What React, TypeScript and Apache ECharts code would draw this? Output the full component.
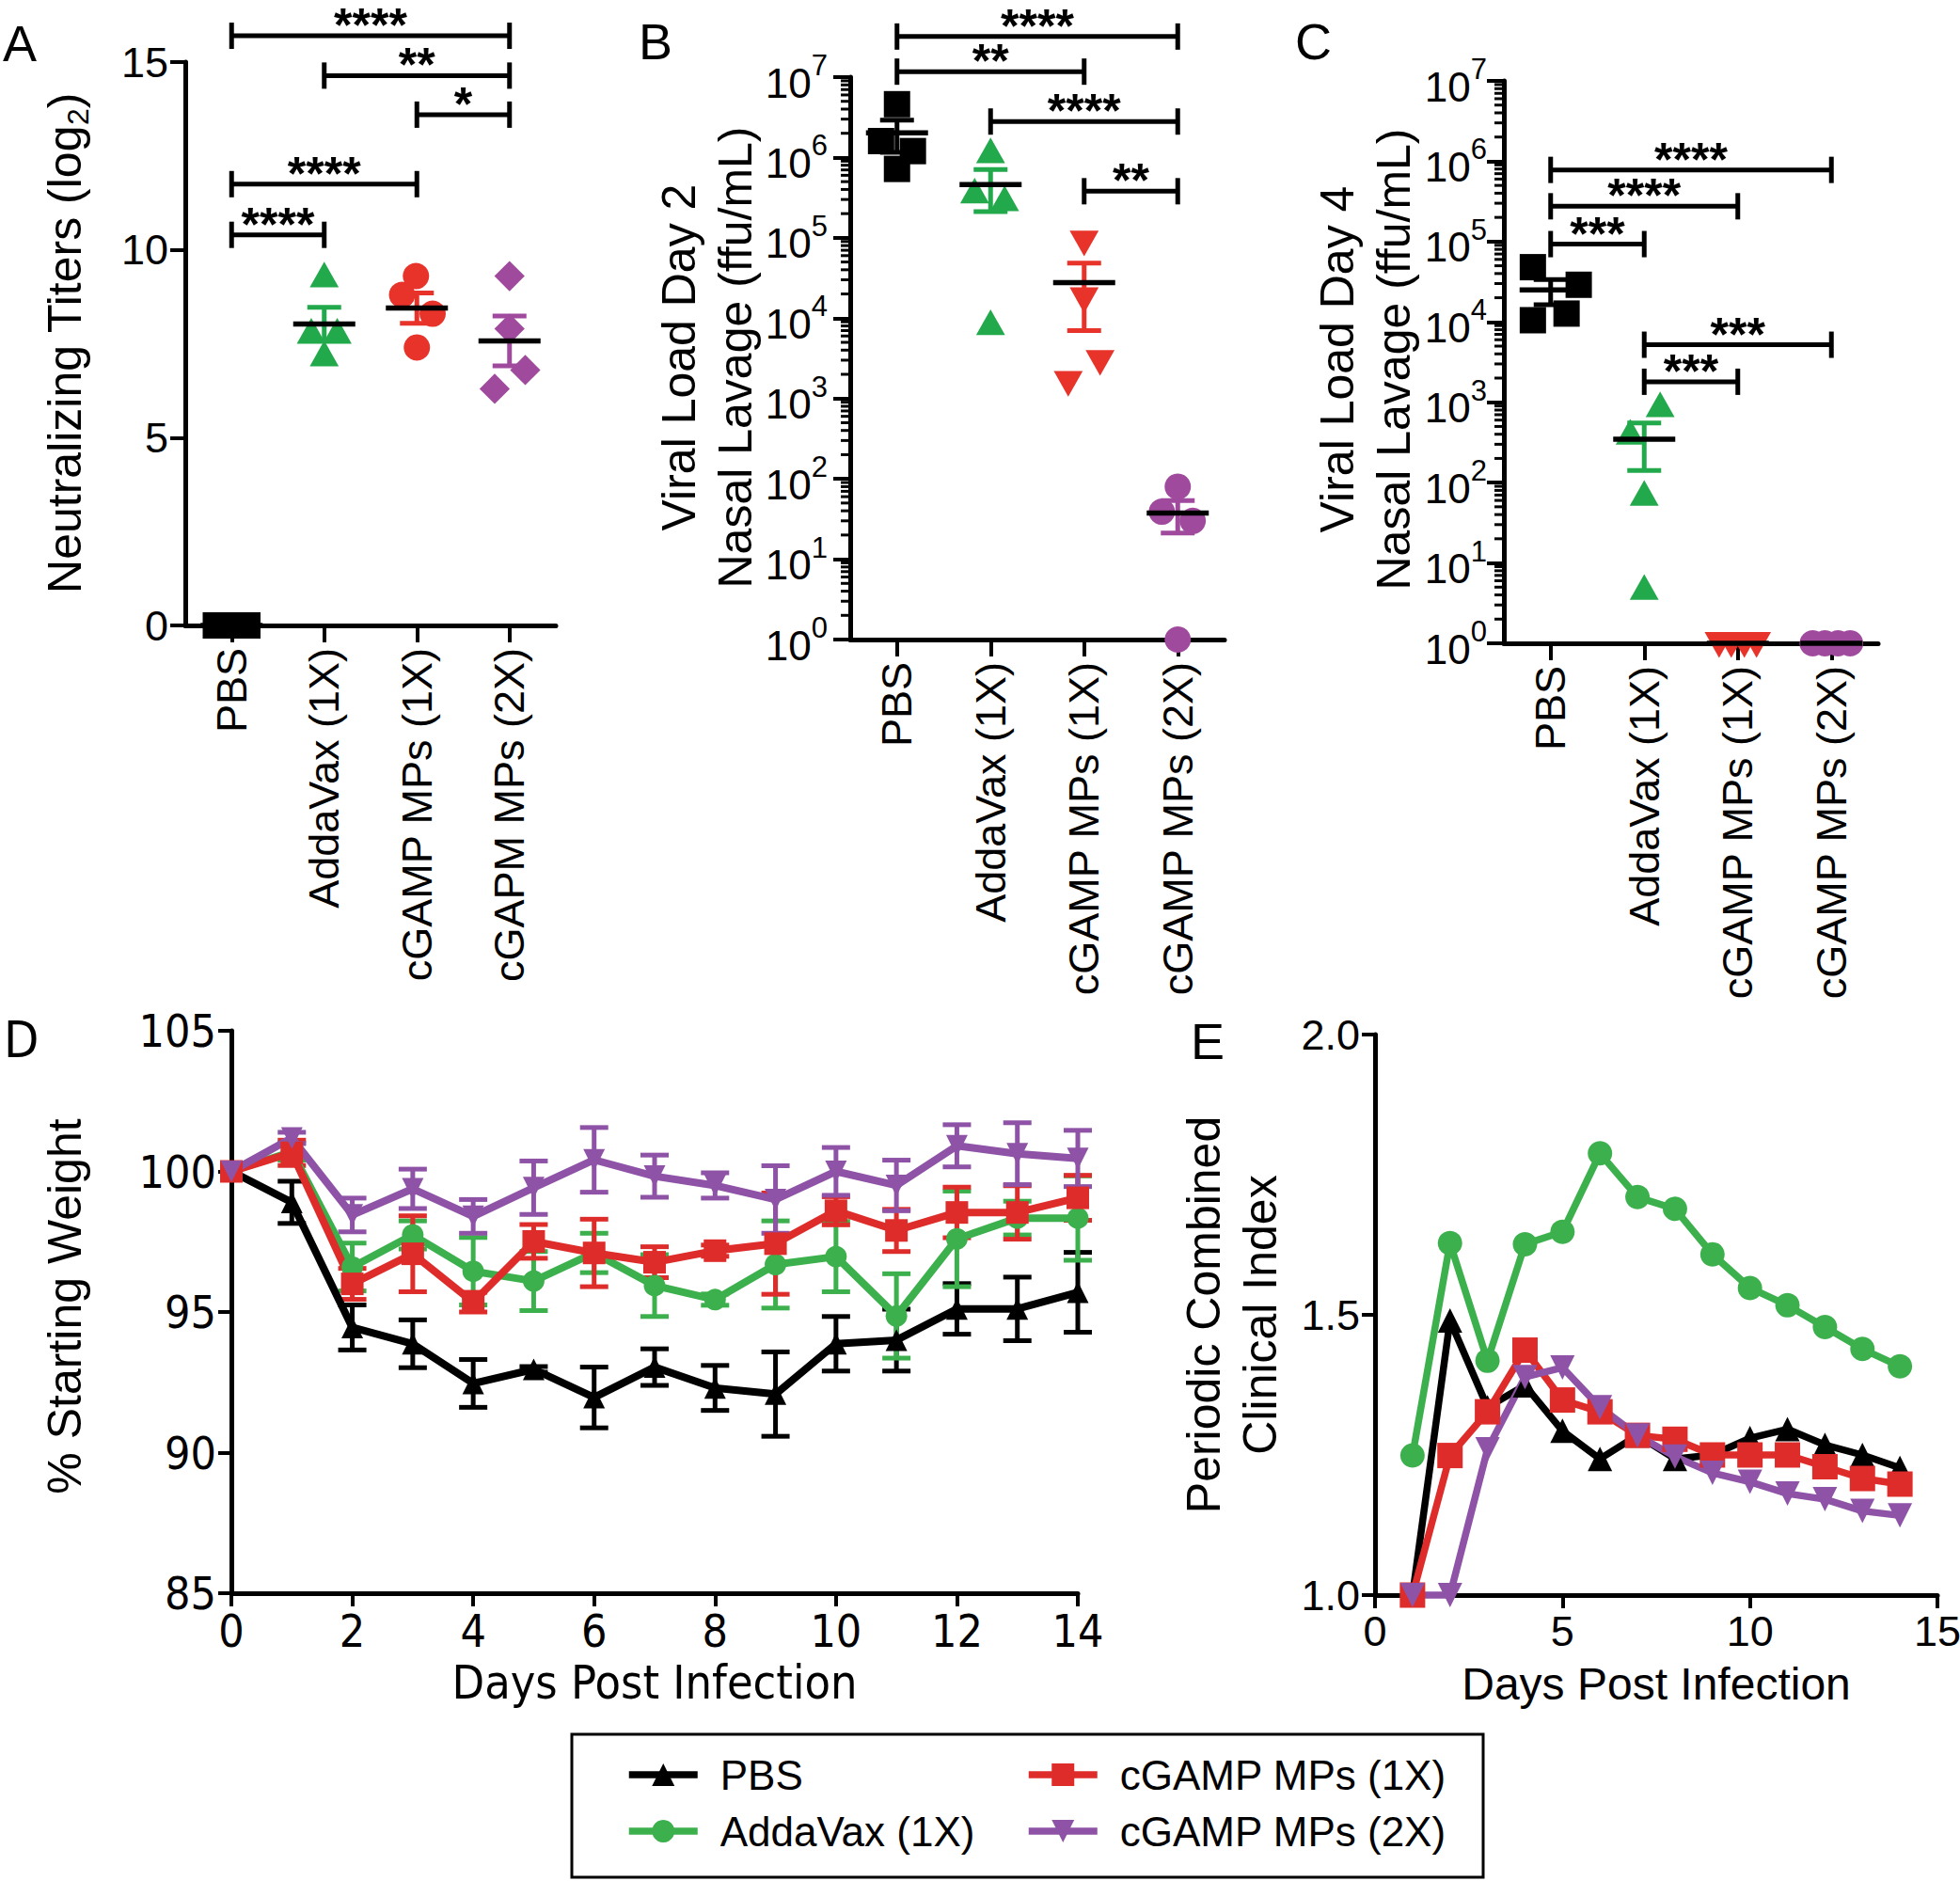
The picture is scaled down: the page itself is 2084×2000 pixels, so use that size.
import React, { useEffect, useRef } from "react";
import * as echarts from "echarts";

const FONT = "'Liberation Sans', Arial, Helvetica, sans-serif";
const NARROW = "'Liberation Sans Narrow', 'Arial Narrow', 'DejaVu Sans Condensed', 'Liberation Sans', Arial, sans-serif";

// ---------- shared ----------
const groupNames = ["PBS", "AddaVax (1X)", "cGAMP MPs (1X)", "cGAMP MPs (2X)"];
const categoriesA = ["PBS", "AddaVax (1X)", "cGAMP MPs (1X)", "cGAPM MPs (2X)"];
const categoriesBC = ["PBS", "AddaVax (1X)", "cGAMP MPs (1X)", "cGAMP MPs (2X)"];
const dotColors = ["#000000", "#22a94b", "#e8332b", "#a04a9e"];
const lineColors = ["#000000", "#3cb04c", "#de2c2a", "#8e53a6"];
const shapesA = ["square", "triangle", "circle", "diamond"];
const shapesBC = ["square", "triangle", "down", "circle"];

// ---------- panel A: neutralizing titers (log2) ----------
const titerPBS = [0, 0, 0, 0];
const titerAddaVax = [9.3, 7.8, 7.8, 7.2];
const titerMP1X = [9.3, 8.8, 8.3, 7.4];
const titerMP2X = [9.3, 7.9, 6.8, 6.3];
const jitterA = [[-0.17, -0.06, 0.06, 0.17], [0, -0.14, 0.14, 0], [-0.01, -0.16, 0.17, 0], [0, 0, 0.17, -0.16]];
const bracketsA = [[0, 3, 15.7], [1, 3, 14.64], [2, 3, 13.6], [0, 2, 11.75], [0, 1, 10.4]];
const starsA = ["****", "**", "*", "****", "****"];

// ---------- panel B: viral load day 2 ----------
const day2PBS = [4.6e6, 1.6e6, 1.2e6, 7.2e5];
const day2AddaVax = [1.17e6, 3.7e5, 2.95e5, 8.5e3];
const day2MP1X = [8.9e4, 1.75e4, 2.9e3, 1.6e3];
const day2MP2X = [80, 39, 30, 1];
const jitterB = [[0, -0.17, 0.17, 0], [0, -0.17, 0.15, 0], [0, 0, 0.17, -0.17], [0, -0.17, 0.16, 0]];
const bracketsB = [[0, 3, 3.2e7], [0, 2, 1.17e7], [1, 3, 2.8e6], [2, 3, 3.8e5]];
const starsB = ["****", "**", "****", "**"];

// ---------- panel C: viral load day 4 ----------
const day4PBS = [4.8e4, 2.9e4, 1.27e4, 1.05e4];
const day4AddaVax = [900, 410, 71, 4.8];
const day4MP1X = [1, 1, 1, 1];
const day4MP2X = [1, 1, 1, 1];
const jitterC = [[-0.19, 0.3, 0.17, -0.19], [0.17, -0.15, 0, 0], [-0.2, -0.07, 0.07, 0.2], [-0.2, -0.07, 0.07, 0.2]];
const bracketsC = [[0, 3, 7.8e5], [0, 2, 2.75e5], [0, 1, 9.3e4], [1, 3, 5.2e3], [1, 2, 1.8e3]];
const starsC = ["****", "****", "***", "***", "***"];

// log-axis minor tick positions (decoration)
const minorFactors = [2, 3, 4, 5, 6, 7, 8, 9];
const decades = [1, 10, 100, 1e3, 1e4, 1e5, 1e6];

// ---------- panel D: % starting weight ----------
const days = [0, 1, 2, 3, 4, 5, 6, 7, 8, 9, 10, 11, 12, 13, 14];
const weightPBS = [100, 98.9, 94.45, 93.87, 92.46, 92.96, 91.96, 93.04, 92.3, 92.08, 93.87, 94.0, 95.11, 95.11, 95.7];
const weightPBSErr = [0, 0.75, 0.8, 0.85, 0.85, 0.1, 1.08, 0.65, 0.8, 1.5, 0.97, 1.1, 0.9, 1.13, 1.42];
const weightAddaVax = [100, 100.7, 96.6, 97.74, 96.45, 96.1, 97.1, 95.94, 95.44, 96.69, 96.97, 94.86, 97.6, 98.34, 98.34];
const weightAddaVaxErr = [0, 0.3, 0.85, 0.5, 1.2, 1.05, 0.7, 1.1, 0.2, 1.55, 1.25, 1.5, 1.7, 0.6, 1.5];
const weightMP1X = [100, 100.66, 96.0, 97.07, 95.35, 97.51, 97.1, 96.77, 97.18, 97.43, 98.6, 97.9, 98.54, 98.54, 99.06];
const weightMP1XErr = [0, 0.45, 0.55, 1.35, 0.35, 0.6, 1.2, 0.55, 0.2, 1.8, 0.5, 0.75, 0.9, 0.95, 0.8];
const weightMP2X = [100, 101.19, 98.45, 99.38, 98.4, 99.42, 100.41, 99.83, 99.5, 99.0, 100.0, 99.5, 100.91, 100.63, 100.46];
const weightMP2XErr = [0, 0.2, 0.6, 0.7, 0.6, 0.95, 1.15, 0.75, 0.45, 1.2, 0.85, 0.9, 0.75, 1.1, 1.0];

// ---------- panel E: periodic combined clinical index ----------
const clinicalDays = [1, 2, 3, 4, 5, 6, 7, 8, 9, 10, 11, 12, 13, 14];
const indexPBS = [1.0, 1.49, 1.335, 1.374, 1.293, 1.243, 1.285, 1.243, 1.25, 1.28, 1.296, 1.268, 1.25, 1.227];
const indexAddaVax = [1.249, 1.628, 1.418, 1.626, 1.648, 1.788, 1.71, 1.689, 1.608, 1.548, 1.517, 1.478, 1.439, 1.408];
const indexMP1X = [1.0, 1.249, 1.327, 1.437, 1.348, 1.327, 1.285, 1.278, 1.25, 1.25, 1.25, 1.229, 1.208, 1.198];
const indexMP2X = [1.0, 1.0, 1.26, 1.389, 1.406, 1.335, 1.285, 1.247, 1.218, 1.202, 1.181, 1.171, 1.15, 1.142];

const lineSymbols = ["triangle", "circle", "rect", "triangle"];
const lineSymbolRotate = [0, 0, 0, 180];

// ---------- helpers ----------
function stats(vals: number[]) {
  const n = vals.length;
  const m = vals.reduce((a, b) => a + b, 0) / n;
  const sd = Math.sqrt(vals.reduce((a, b) => a + (b - m) * (b - m), 0) / (n - 1));
  return [m, sd / Math.sqrt(n)];
}

function shapeEl(shape: string, x: number, y: number, s: number, color: string): any {
  const h = s / 2;
  const style = { fill: color };
  if (shape === "square") return { type: "rect", shape: { x: x - h, y: y - h, width: s, height: s }, style };
  if (shape === "circle") return { type: "circle", shape: { cx: x, cy: y, r: h }, style };
  if (shape === "triangle")
    return { type: "polygon", shape: { points: [[x, y - h * 1.1], [x + h * 1.1, y + h * 0.85], [x - h * 1.1, y + h * 0.85]] }, style };
  if (shape === "down")
    return { type: "polygon", shape: { points: [[x, y + h * 1.1], [x + h * 1.1, y - h * 0.85], [x - h * 1.1, y - h * 0.85]] }, style };
  return { type: "polygon", shape: { points: [[x, y - h * 1.15], [x + h * 1.15, y], [x, y + h * 1.15], [x - h * 1.15, y]] }, style };
}

function dotSeries(panel: string, gi: number, g: number, values: number[], jit: number[], shape: string) {
  return {
    type: "custom",
    name: panel + " " + groupNames[g],
    xAxisIndex: gi,
    yAxisIndex: gi,
    clip: false,
    z: 3,
    data: values.map((v, k) => [g, v, jit[k]]),
    renderItem: (params: any, api: any) => {
      const p = api.coord([api.value(0), api.value(1)]);
      const band = params.coordSys.width / 4;
      return shapeEl(shape, p[0] + api.value(2) * band, p[1], 28, dotColors[g]);
    },
  };
}

function meanSeries(panel: string, gi: number, groups: number[][]) {
  return {
    type: "custom",
    name: panel + " mean",
    xAxisIndex: gi,
    yAxisIndex: gi,
    clip: false,
    z: 4,
    data: groups.map((vals, g) => {
      const [m, se] = stats(vals);
      return [g, m, m - se, m + se];
    }),
    renderItem: (params: any, api: any) => {
      const g = api.value(0);
      const pm = api.coord([g, api.value(1)]);
      const children: any[] = [];
      const lo = api.value(2);
      const hi = api.value(3);
      const color = dotColors[params.dataIndex];
      if (hi - lo > 1e-9) {
        const pl = api.coord([g, lo]);
        const ph = api.coord([g, hi]);
        const st = { stroke: color, lineWidth: 5 };
        children.push({ type: "line", shape: { x1: pm[0], y1: pl[1], x2: pm[0], y2: ph[1] }, style: st });
        children.push({ type: "line", shape: { x1: pm[0] - 18, y1: pl[1], x2: pm[0] + 18, y2: pl[1] }, style: st });
        children.push({ type: "line", shape: { x1: pm[0] - 18, y1: ph[1], x2: pm[0] + 18, y2: ph[1] }, style: st });
      }
      children.push({ type: "line", shape: { x1: pm[0] - 33, y1: pm[1], x2: pm[0] + 33, y2: pm[1] }, style: { stroke: "#000", lineWidth: 5.5 } });
      return { type: "group", children };
    },
  };
}

function bracketSeries(panel: string, gi: number, brackets: number[][], stars: string[]) {
  return {
    type: "custom",
    name: panel + " significance",
    xAxisIndex: gi,
    yAxisIndex: gi,
    clip: false,
    z: 5,
    data: brackets,
    renderItem: (params: any, api: any) => {
      const p1 = api.coord([api.value(0), api.value(2)]);
      const p2 = api.coord([api.value(1), api.value(2)]);
      const st = { stroke: "#000", lineWidth: 5 };
      return {
        type: "group",
        children: [
          { type: "line", shape: { x1: p1[0], y1: p1[1], x2: p2[0], y2: p2[1] }, style: st },
          { type: "line", shape: { x1: p1[0], y1: p1[1] - 14, x2: p1[0], y2: p1[1] + 14 }, style: st },
          { type: "line", shape: { x1: p2[0], y1: p2[1] - 14, x2: p2[0], y2: p2[1] + 14 }, style: st },
          {
            type: "text",
            x: (p1[0] + p2[0]) / 2,
            y: p1[1] - 11,
            style: {
              text: stars[params.dataIndex],
              fontSize: 50,
              fontWeight: "bold",
              fontFamily: FONT,
              fill: "#000",
              align: "center",
              verticalAlign: "middle",
            },
          },
        ],
      };
    },
  };
}

function minorTickSeries(panel: string, gi: number) {
  const vals: number[][] = [];
  decades.forEach((d) => minorFactors.forEach((f) => vals.push([0, d * f])));
  return {
    type: "custom",
    name: panel + " minor ticks",
    xAxisIndex: gi,
    yAxisIndex: gi,
    clip: false,
    z: 1,
    silent: true,
    data: vals,
    renderItem: (params: any, api: any) => {
      const p = api.coord([0, api.value(1)]);
      const x0 = params.coordSys.x;
      return { type: "line", shape: { x1: x0 - 10, y1: p[1], x2: x0, y2: p[1] }, style: { stroke: "#000", lineWidth: 3 } };
    },
  };
}

function errorBarSeries(g: number, means: number[], errs: number[]) {
  return {
    type: "custom",
    name: groupNames[g] + " SEM",
    xAxisIndex: 3,
    yAxisIndex: 3,
    clip: false,
    z: 2,
    data: days.map((d, k) => [d, means[k], errs[k]]),
    renderItem: (params: any, api: any) => {
      const x = api.value(0);
      const m = api.value(1);
      const e = api.value(2);
      if (!e) return { type: "group", children: [] };
      const top = api.coord([x, m + e]);
      const bot = api.coord([x, m - e]);
      const st = { stroke: lineColors[g], lineWidth: 5 };
      const cw = 15;
      return {
        type: "group",
        children: [
          { type: "line", shape: { x1: top[0], y1: top[1], x2: bot[0], y2: bot[1] }, style: st },
          { type: "line", shape: { x1: top[0] - cw, y1: top[1], x2: top[0] + cw, y2: top[1] }, style: st },
          { type: "line", shape: { x1: bot[0] - cw, y1: bot[1], x2: bot[0] + cw, y2: bot[1] }, style: st },
        ],
      };
    },
  };
}

function lineSeries(g: number, gi: number, xs: number[], ys: number[], size: number, width: number) {
  return {
    type: "line",
    name: groupNames[g],
    xAxisIndex: gi,
    yAxisIndex: gi,
    data: xs.map((x, k) => [x, ys[k]]),
    symbol: lineSymbols[g],
    symbolRotate: lineSymbolRotate[g],
    symbolSize: g === 2 ? size + 1 : size,
    showAllSymbol: true,
    lineStyle: { width, color: lineColors[g] },
    itemStyle: { color: lineColors[g] },
    z: 3,
    clip: false,
  };
}

const axisLineStyle = { show: true, lineStyle: { color: "#000", width: 5 } };

function catXAxis(gi: number, data: string[]) {
  return {
    type: "category",
    gridIndex: gi,
    data,
    boundaryGap: true,
    axisLine: axisLineStyle,
    axisTick: { show: true, alignWithLabel: true, length: 18, lineStyle: { color: "#000", width: 4 } },
    axisLabel: { rotate: 90, interval: 0, margin: 24, fontSize: 45, color: "#000", fontFamily: FONT },
    splitLine: { show: false },
  };
}

function logYAxis(gi: number, margin: number) {
  return {
    type: "log",
    gridIndex: gi,
    logBase: 10,
    min: 1,
    max: 1e7,
    axisLine: axisLineStyle,
    axisTick: { show: true, length: 18, lineStyle: { color: "#000", width: 4 } },
    splitLine: { show: false },
    minorTick: { show: false },
    axisLabel: {
      margin,
      formatter: (v: number) => "{b|10}{s|" + Math.round(Math.log10(v)) + "}",
      rich: {
        b: { fontSize: 44, fontFamily: FONT, color: "#000", lineHeight: 56, verticalAlign: "bottom" },
        s: { fontSize: 31, fontFamily: FONT, color: "#000", lineHeight: 31, verticalAlign: "top" },
      },
    },
  };
}

function legendBlock(names: string[], left: number) {
  return {
    data: names,
    orient: "vertical",
    left,
    top: 1865,
    itemGap: 16,
    itemWidth: 73,
    itemHeight: 30,
    padding: 0,
    selectedMode: false,
    lineStyle: { width: 7.5 },
    textStyle: { fontSize: 44, fontFamily: FONT, color: "#000", padding: [0, 0, 0, 19] },
  };
}

function buildOption() {
  const series: any[] = [];
  // D lines first (legend icons come from these)
  const wD = [weightPBS, weightAddaVax, weightMP1X, weightMP2X];
  const eD = [weightPBSErr, weightAddaVaxErr, weightMP1XErr, weightMP2XErr];
  wD.forEach((w, g) => series.push(lineSeries(g, 3, days, w, 23, 8)));
  wD.forEach((w, g) => series.push(errorBarSeries(g, w, eD[g])));
  const iE = [indexPBS, indexAddaVax, indexMP1X, indexMP2X];
  iE.forEach((v, g) => series.push(lineSeries(g, 4, clinicalDays, v, 26, 7.5)));

  const gA = [titerPBS, titerAddaVax, titerMP1X, titerMP2X];
  const gB = [day2PBS, day2AddaVax, day2MP1X, day2MP2X];
  const gC = [day4PBS, day4AddaVax, day4MP1X, day4MP2X];
  gA.forEach((v, g) => series.push(dotSeries("A", 0, g, v, jitterA[g], shapesA[g])));
  gB.forEach((v, g) => series.push(dotSeries("B", 1, g, v, jitterB[g], shapesBC[g])));
  gC.forEach((v, g) => series.push(dotSeries("C", 2, g, v, jitterC[g], shapesBC[g])));
  series.push(meanSeries("A", 0, gA));
  series.push(meanSeries("B", 1, gB));
  series.push(meanSeries("C", 2, gC));
  series.push(bracketSeries("A", 0, bracketsA, starsA));
  series.push(bracketSeries("B", 1, bracketsB, starsB));
  series.push(bracketSeries("C", 2, bracketsC, starsC));
  series.push(minorTickSeries("B", 1));
  series.push(minorTickSeries("C", 2));

  const letter = (t: string, x: number, y: number, ff = FONT) => ({
    type: "text",
    x,
    y,
    style: { text: t, fontSize: 54, fontFamily: ff, fill: "#000", verticalAlign: "top" },
  });
  const title = (t: string, x: number, y: number, extra: any = {}) => ({
    type: "text",
    x,
    y,
    rotation: Math.PI / 2,
    style: { text: t, fontSize: 50, fontFamily: FONT, fill: "#000", align: "center", verticalAlign: "middle", lineHeight: 60, ...extra },
  });

  return {
    animation: false,
    backgroundColor: "#ffffff",
    textStyle: { fontFamily: FONT },
    grid: [
      { left: 197, top: 66, width: 394, height: 599, outerBoundsMode: "none" },
      { left: 904, top: 82, width: 398, height: 598, outerBoundsMode: "none" },
      { left: 1599, top: 86, width: 398, height: 598, outerBoundsMode: "none" },
      { left: 246, top: 1096, width: 900, height: 598, outerBoundsMode: "none" },
      { left: 1462, top: 1100, width: 598, height: 596, outerBoundsMode: "none" },
    ],
    xAxis: [
      catXAxis(0, categoriesA),
      catXAxis(1, categoriesBC),
      catXAxis(2, categoriesBC),
      {
        type: "value",
        gridIndex: 3,
        min: 0,
        max: 14,
        interval: 2,
        axisLine: axisLineStyle,
        axisTick: { show: true, length: 14, lineStyle: { color: "#000", width: 4 } },
        axisLabel: { margin: 16, fontSize: 48, color: "#000", fontFamily: NARROW },
        splitLine: { show: false },
        name: "Days Post Infection",
        nameLocation: "middle",
        nameGap: 70,
        nameTextStyle: { fontSize: 50, color: "#000", fontFamily: NARROW },
      },
      {
        type: "value",
        gridIndex: 4,
        min: 0,
        max: 15,
        interval: 5,
        axisLine: axisLineStyle,
        axisTick: { show: true, length: 14, lineStyle: { color: "#000", width: 4 } },
        axisLabel: { margin: 16, fontSize: 45, color: "#000", fontFamily: FONT },
        splitLine: { show: false },
        name: "Days Post Infection",
        nameLocation: "middle",
        nameGap: 70,
        nameTextStyle: { fontSize: 48, color: "#000", fontFamily: FONT },
      },
    ],
    yAxis: [
      {
        type: "value",
        gridIndex: 0,
        min: 0,
        max: 15,
        interval: 5,
        axisLine: axisLineStyle,
        axisTick: { show: true, length: 16, lineStyle: { color: "#000", width: 4 } },
        axisLabel: { margin: 18, fontSize: 45, color: "#000", fontFamily: FONT },
        splitLine: { show: false },
      },
      logYAxis(1, 24),
      logYAxis(2, 18),
      {
        type: "value",
        gridIndex: 3,
        min: 85,
        max: 105,
        interval: 5,
        axisLine: axisLineStyle,
        axisTick: { show: true, length: 14, lineStyle: { color: "#000", width: 4 } },
        axisLabel: { margin: 16, fontSize: 48, color: "#000", fontFamily: NARROW },
        splitLine: { show: false },
      },
      {
        type: "value",
        gridIndex: 4,
        min: 1,
        max: 2,
        interval: 0.5,
        axisLine: axisLineStyle,
        axisTick: { show: true, length: 14, lineStyle: { color: "#000", width: 4 } },
        axisLabel: { margin: 16, fontSize: 45, color: "#000", fontFamily: FONT, formatter: (v: number) => v.toFixed(1) },
        splitLine: { show: false },
      },
    ],
    legend: [legendBlock(groupNames.slice(0, 2), 665), legendBlock(groupNames.slice(2, 4), 1090)],
    graphic: [
      letter("A", 3, 19),
      letter("B", 679, 17),
      letter("C", 1377, 17),
      letter("D", 4, 1078, NARROW),
      letter("E", 1266, 1080),
      title("Neutralizing Titers (log{sub|2})", 69, 365, {
        rich: { sub: { fontSize: 32, fontFamily: FONT, fill: "#000", verticalAlign: "bottom", lineHeight: 32 } },
      }),
      title("Viral Load Day 2\nNasal Lavage (ffu/mL)", 752, 380),
      title("Viral Load Day 4\nNasal Lavage (ffu/mL)", 1452, 382),
      title("% Starting Weight", 69, 1389),
      title("Periodic Combined\nClinical Index", 1310, 1398),
      {
        type: "rect",
        shape: { x: 608, y: 1844, width: 969, height: 152 },
        style: { fill: "none", stroke: "#000", lineWidth: 3 },
        silent: true,
      },
    ],
    series,
  };
}

export default function App() {
  const ref = useRef<HTMLDivElement>(null);
  useEffect(() => {
    document.body.style.margin = "0";
    const chart = echarts.init(ref.current as HTMLDivElement, null, { renderer: "svg" });
    chart.setOption(buildOption() as any);
    return () => chart.dispose();
  }, []);
  return <div ref={ref} style={{ width: 2084, height: 2000, background: "#fff" }} />;
}
